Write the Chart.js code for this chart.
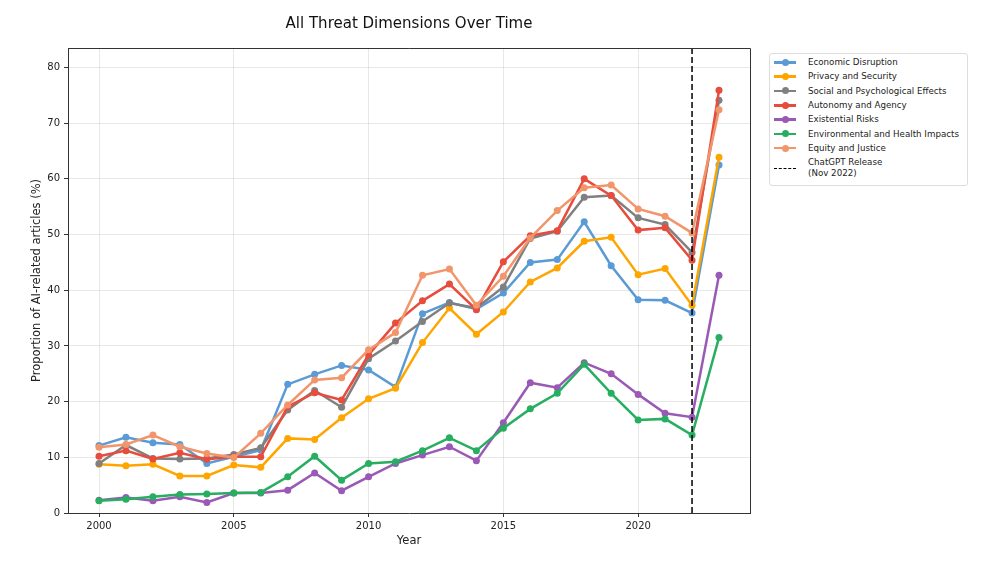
<!DOCTYPE html>
<html>
<head>
<meta charset="utf-8">
<script src="https://cdn.jsdelivr.net/npm/chart.js"></script>
<style>
  body { margin: 0; background: #fff; font-family: "DejaVu Sans", sans-serif; }
  #wrap { position: relative; width: 1000px; height: 563px; }
  #title { position: absolute; left: 68px; width: 682px; top: 14px; text-align: center; font-size: 15px; color: #111; }
  #legend { position: absolute; left: 769px; top: 53px; width: 197px; border: 1px solid #ddd; border-radius: 3px; padding: 1px 0 4px 0; font-size: 8.7px; color: #222; background: #fff; white-space: nowrap; }
  .row { display: flex; align-items: center; height: 14.3px; }
  .sample { position: relative; width: 22px; height: 10px; margin: 0 12px 0 4px; flex: none; }
  .sample .ln { position: absolute; left: 0; right: 0; top: 4px; height: 2.5px; }
  .sample .dot { position: absolute; left: 7.5px; top: 1.6px; width: 7px; height: 7px; border-radius: 50%; }
  .dash { position: absolute; left: 0; right: 0; top: 4.5px; height: 0; border-top: 1.5px dashed #000; }
</style>
</head>
<body>
<div id="wrap">
  <canvas id="chart" width="1000" height="563"></canvas>
  <div id="title">All Threat Dimensions Over Time</div>
  <div id="legend"></div>
</div>
<script>
const years = [2000, 2001, 2002, 2003, 2004, 2005, 2006, 2007, 2008, 2009, 2010, 2011,
  2012, 2013, 2014, 2015, 2016, 2017, 2018, 2019, 2020, 2021, 2022, 2023];

const economic = [12.1, 13.6, 12.6, 12.3, 8.9, 10.1, 11.3, 23.1, 24.9, 26.5, 25.7, 22.6,
  35.8, 37.8, 36.6, 39.5, 45.0, 45.5, 52.3, 44.4, 38.3, 38.2, 35.9, 62.5];
const privacy = [8.75, 8.5, 8.75, 6.65, 6.65, 8.6, 8.2, 13.4, 13.2, 17.1, 20.5, 22.4,
  30.6, 36.8, 32.1, 36.1, 41.5, 44.0, 48.8, 49.5, 42.8, 43.9, 37.3, 63.9];
const social = [8.9, 12.2, 9.8, 9.7, 9.8, 10.5, 11.7, 18.5, 22.0, 19.0, 27.7, 30.9,
  34.4, 37.7, 36.8, 40.6, 49.3, 50.6, 56.7, 57.0, 53.0, 51.8, 46.8, 74.1];
const autonomy = [10.2, 11.2, 9.7, 10.8, 9.65, 10.1, 10.1, 19.1, 21.6, 20.3, 28.4, 34.1,
  38.1, 41.1, 36.5, 45.1, 49.8, 50.7, 60.0, 57.0, 50.8, 51.2, 45.4, 75.9];
const existential = [2.3, 2.8, 2.2, 2.9, 1.9, 3.6, 3.6, 4.1, 7.2, 4.0, 6.5, 8.9,
  10.4, 11.9, 9.4, 16.2, 23.4, 22.5, 27.0, 25.0, 21.3, 17.9, 17.2, 42.7];
const environmental = [2.2, 2.45, 2.9, 3.3, 3.4, 3.6, 3.7, 6.5, 10.2, 5.9, 8.9, 9.2,
  11.2, 13.5, 11.2, 15.2, 18.7, 21.5, 26.7, 21.5, 16.7, 16.9, 14.0, 31.5];
const equity = [11.8, 12.3, 14.0, 11.9, 10.7, 9.95, 14.3, 19.4, 23.9, 24.3, 29.3, 32.4,
  42.7, 43.8, 37.3, 42.5, 49.4, 54.3, 58.4, 58.9, 54.6, 53.3, 50.3, 72.4];

const seriesNames = ['Economic Disruption', 'Privacy and Security', 'Social and Psychological Effects',
  'Autonomy and Agency', 'Existential Risks', 'Environmental and Health Impacts', 'Equity and Justice'];
const seriesData = [economic, privacy, social, autonomy, existential, environmental, equity];
const seriesColors = ['#5a9bd5', '#ffa500', '#808080', '#e74c3c', '#9b59b6', '#27ae60', '#f2956a'];

const releaseYear = 2022;
const releaseLabel = ['ChatGPT Release', '(Nov 2022)'];

const xTicks = [2000, 2005, 2010, 2015, 2020];
const yTicks = [0, 10, 20, 30, 40, 50, 60, 70, 80];
const xRange = [1998.85, 2024.15];
const yRange = [0, 83.5];

const datasets = seriesNames.map((name, i) => ({
  label: name,
  data: years.map((y, j) => ({ x: y, y: seriesData[i][j] })),
  borderColor: seriesColors[i],
  backgroundColor: seriesColors[i],
  borderWidth: 2.5,
  pointRadius: 3.5,
  pointHoverRadius: 3.5,
  pointBorderWidth: 0,
  tension: 0,
  order: seriesNames.length - i + 1
}));

datasets.push({
  label: releaseLabel.join(' '),
  data: [{ x: releaseYear, y: yRange[0] }, { x: releaseYear, y: yRange[1] }],
  borderColor: '#000',
  borderWidth: 1.5,
  borderDash: [6, 3],
  pointRadius: 0,
  order: 0
});

// top + right spines
const frame = {
  id: 'frame',
  afterDraw(chart) {
    const a = chart.chartArea, ctx = chart.ctx;
    ctx.save();
    ctx.strokeStyle = '#333';
    ctx.lineWidth = 1;
    ctx.beginPath();
    ctx.moveTo(a.left, a.top + 0.5);
    ctx.lineTo(a.right + 0.5, a.top + 0.5);
    ctx.lineTo(a.right + 0.5, a.bottom);
    ctx.stroke();
    ctx.restore();
  }
};

const tickFont = { family: 'DejaVu Sans', size: 10 };

new Chart(document.getElementById('chart'), {
  type: 'line',
  data: { datasets },
  options: {
    responsive: false,
    animation: false,
    events: [],
    layout: { padding: { left: 28, right: 250, top: 48, bottom: 13 } },
    plugins: { legend: { display: false }, title: { display: false }, tooltip: { enabled: false } },
    scales: {
      x: {
        type: 'linear',
        min: xRange[0],
        max: xRange[1],
        afterBuildTicks: s => { s.ticks = xTicks.map(v => ({ value: v })); },
        afterFit: s => { s.height = 37; },
        ticks: { color: '#222', font: tickFont, padding: 3, callback: v => String(v) },
        grid: { color: 'rgba(0,0,0,0.09)', tickColor: '#333', tickLength: 4 },
        border: { color: '#333', width: 1 },
        title: { display: true, text: 'Year', color: '#222', font: { family: 'DejaVu Sans', size: 11.5 }, padding: { top: 2, bottom: 2 } }
      },
      y: {
        min: yRange[0],
        max: yRange[1],
        afterBuildTicks: s => { s.ticks = yTicks.map(v => ({ value: v })); },
        afterFit: s => { s.width = 40; },
        ticks: { color: '#222', font: tickFont, padding: 4 },
        grid: { color: 'rgba(0,0,0,0.09)', tickColor: '#333', tickLength: 4 },
        border: { color: '#333', width: 1 },
        title: { display: true, text: 'Proportion of AI-related articles (%)', color: '#222', font: { family: 'DejaVu Sans', size: 11.5 }, padding: { top: 2, bottom: 2 } }
      }
    }
  },
  plugins: [frame]
});

// legend
const legend = document.getElementById('legend');
seriesNames.forEach((name, i) => {
  const row = document.createElement('div');
  row.className = 'row';
  row.innerHTML = '<div class="sample"><div class="ln" style="background:' + seriesColors[i] +
    '"></div><div class="dot" style="background:' + seriesColors[i] + '"></div></div><span>' + name + '</span>';
  legend.appendChild(row);
});
const last = document.createElement('div');
last.className = 'row';
last.style.height = '26px';
last.innerHTML = '<div class="sample"><div class="dash"></div></div><span style="line-height:11px">' +
  releaseLabel[0] + '<br>' + releaseLabel[1] + '</span>';
legend.appendChild(last);
</script>
</body>
</html>
